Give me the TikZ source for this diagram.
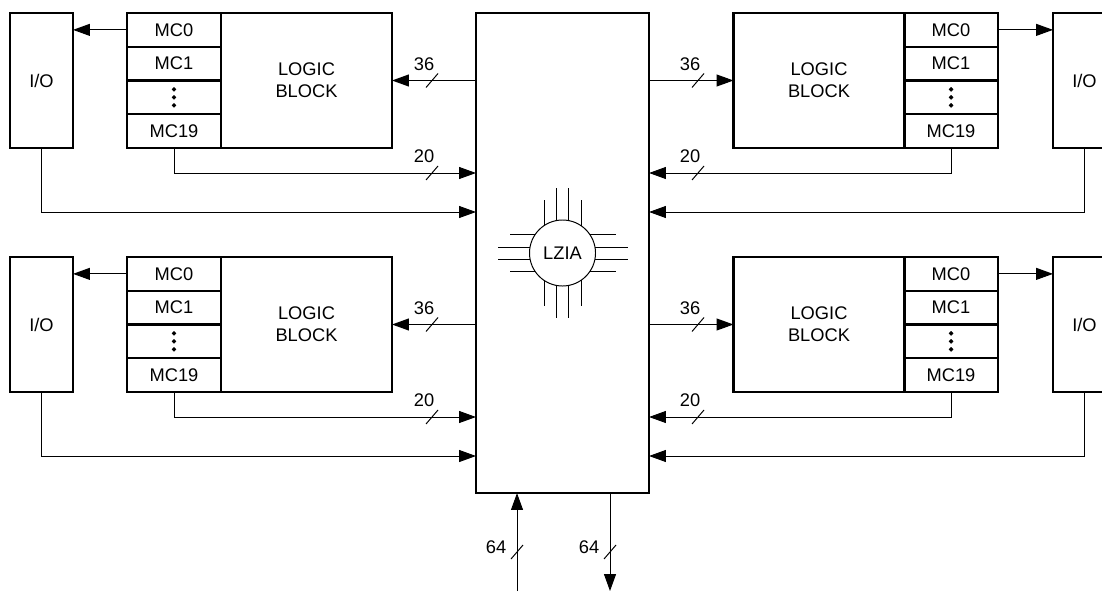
\documentclass[tikz,border=0pt]{standalone}
\usepackage{fontspec}
\setmainfont{Liberation Sans}
\usepackage{tikz}
\usetikzlibrary{arrows.meta}

\newcommand{\busmark}[4][-8,-16.5]{%
  \draw[line width=0.7pt] (#2) +(-6,7) -- +(6,-7);
  \path (#2) ++(#1) node (#3) {#4};}

\begin{document}
\begin{tikzpicture}[x=0.025cm, y=-0.025cm,
  font=\fontsize{13}{15.6}\selectfont,
  box/.style={draw, line width=1.65pt, inner sep=0pt, outer sep=0pt},
  iobox/.style={box, minimum width=1.575cm, minimum height=3.375cm},
  mccell/.style={box, minimum width=2.35cm, minimum height=0.84375cm},
  logicbox/.style={box, minimum width=4.275cm, minimum height=3.375cm, align=center},
  wire/.style={line width=0.7pt, -{Triangle[length=12pt,width=8.5pt]}}]

\useasboundingbox (0,0) rectangle (1102,591);

% central interconnect
\node[box, minimum width=4.325cm, minimum height=12cm] (BUS) at (562.5,253) {};
\node[circle, draw, line width=0.7pt, minimum size=1.65cm, inner sep=0pt] (ZIA) at (562.5,253) {LZIA};
\foreach \d/\l in {-18.5/53, -6/65, 6/65, 18.5/53}{
  \pgfmathsetmacro{\s}{sqrt(33*33-\d*\d)}
  \draw[line width=0.7pt] ([shift={(\s,\d)}]ZIA.center) -- ([shift={(\l,\d)}]ZIA.center);
  \draw[line width=0.7pt] ([shift={(-\s,\d)}]ZIA.center) -- ([shift={(-\l,\d)}]ZIA.center);
  \draw[line width=0.7pt] ([shift={(\d,\s)}]ZIA.center) -- ([shift={(\d,\l)}]ZIA.center);
  \draw[line width=0.7pt] ([shift={(\d,-\s)}]ZIA.center) -- ([shift={(\d,-\l)}]ZIA.center);
}

% upper left
\node[iobox] (IO1) at (41.5,80.5) {I/O};
\node[mccell] (MC1a) at (174,29.875) {MC0};
\node[mccell] (MC1b) at (174,63.625) {MC1};
\node[mccell] (MC1c) at (174,97.375) {};
\node[mccell] (MC1d) at (174,131.125) {MC19};
\node[logicbox] (LB1) at (306.5,80.5) {LOGIC\\BLOCK};
\filldraw (MC1c) ++(0,-8) circle (1.4pt) ++(0,8) circle (1.4pt) ++(0,8) circle (1.4pt);

\draw[wire] (MC1a.west) -- (MC1a.west -| IO1.east);
\draw[wire] (BUS.west |- LB1.east) -- (LB1.east);
\draw[wire] (MC1d.south) |- (BUS.west |- 0,173);
\draw[wire] (IO1.south) |- (BUS.west |- 0,212);
\busmark{432,80.5}{N1a}{36}
\busmark{432,173}{N1b}{20}

% upper right
\node[iobox] (IO2) at (1084.5,80.5) {I/O};
\node[mccell] (MC2a) at (951,29.875) {MC0};
\node[mccell] (MC2b) at (951,63.625) {MC1};
\node[mccell] (MC2c) at (951,97.375) {};
\node[mccell] (MC2d) at (951,131.125) {MC19};
\node[logicbox] (LB2) at (819,80.5) {LOGIC\\BLOCK};
\filldraw (MC2c) ++(0,-8) circle (1.4pt) ++(0,8) circle (1.4pt) ++(0,8) circle (1.4pt);

\draw[wire] (MC2a.east) -- (MC2a.east -| IO2.west);
\draw[wire] (BUS.east |- LB2.west) -- (LB2.west);
\draw[wire] (MC2d.south) |- (BUS.east |- 0,173);
\draw[wire] (IO2.south) |- (BUS.east |- 0,212);
\busmark{698,80.5}{N2a}{36}
\busmark{698,173}{N2b}{20}

% lower left
\node[iobox] (IO3) at (41.5,324.5) {I/O};
\node[mccell] (MC3a) at (174,273.875) {MC0};
\node[mccell] (MC3b) at (174,307.625) {MC1};
\node[mccell] (MC3c) at (174,341.375) {};
\node[mccell] (MC3d) at (174,375.125) {MC19};
\node[logicbox] (LB3) at (306.5,324.5) {LOGIC\\BLOCK};
\filldraw (MC3c) ++(0,-8) circle (1.4pt) ++(0,8) circle (1.4pt) ++(0,8) circle (1.4pt);

\draw[wire] (MC3a.west) -- (MC3a.west -| IO3.east);
\draw[wire] (BUS.west |- LB3.east) -- (LB3.east);
\draw[wire] (MC3d.south) |- (BUS.west |- 0,417);
\draw[wire] (IO3.south) |- (BUS.west |- 0,456);
\busmark{432,324.5}{N3a}{36}
\busmark{432,417}{N3b}{20}

% lower right
\node[iobox] (IO4) at (1084.5,324.5) {I/O};
\node[mccell] (MC4a) at (951,273.875) {MC0};
\node[mccell] (MC4b) at (951,307.625) {MC1};
\node[mccell] (MC4c) at (951,341.375) {};
\node[mccell] (MC4d) at (951,375.125) {MC19};
\node[logicbox] (LB4) at (819,324.5) {LOGIC\\BLOCK};
\filldraw (MC4c) ++(0,-8) circle (1.4pt) ++(0,8) circle (1.4pt) ++(0,8) circle (1.4pt);

\draw[wire] (MC4a.east) -- (MC4a.east -| IO4.west);
\draw[wire] (BUS.east |- LB4.west) -- (LB4.west);
\draw[wire] (MC4d.south) |- (BUS.east |- 0,417);
\draw[wire] (IO4.south) |- (BUS.east |- 0,456);
\busmark{698,324.5}{N4a}{36}
\busmark{698,417}{N4b}{20}

% 64-bit ports
\coordinate (IN) at (517,591);
\coordinate (OUT) at (610,591);
\draw[wire] (IN) -- (IN |- BUS.south);
\draw[wire] (BUS.south -| OUT) -- (OUT);
\busmark[-21,-5]{517,552}{N5}{64}
\busmark[-21,-5]{610,552}{N6}{64}

\end{tikzpicture}
\end{document}
